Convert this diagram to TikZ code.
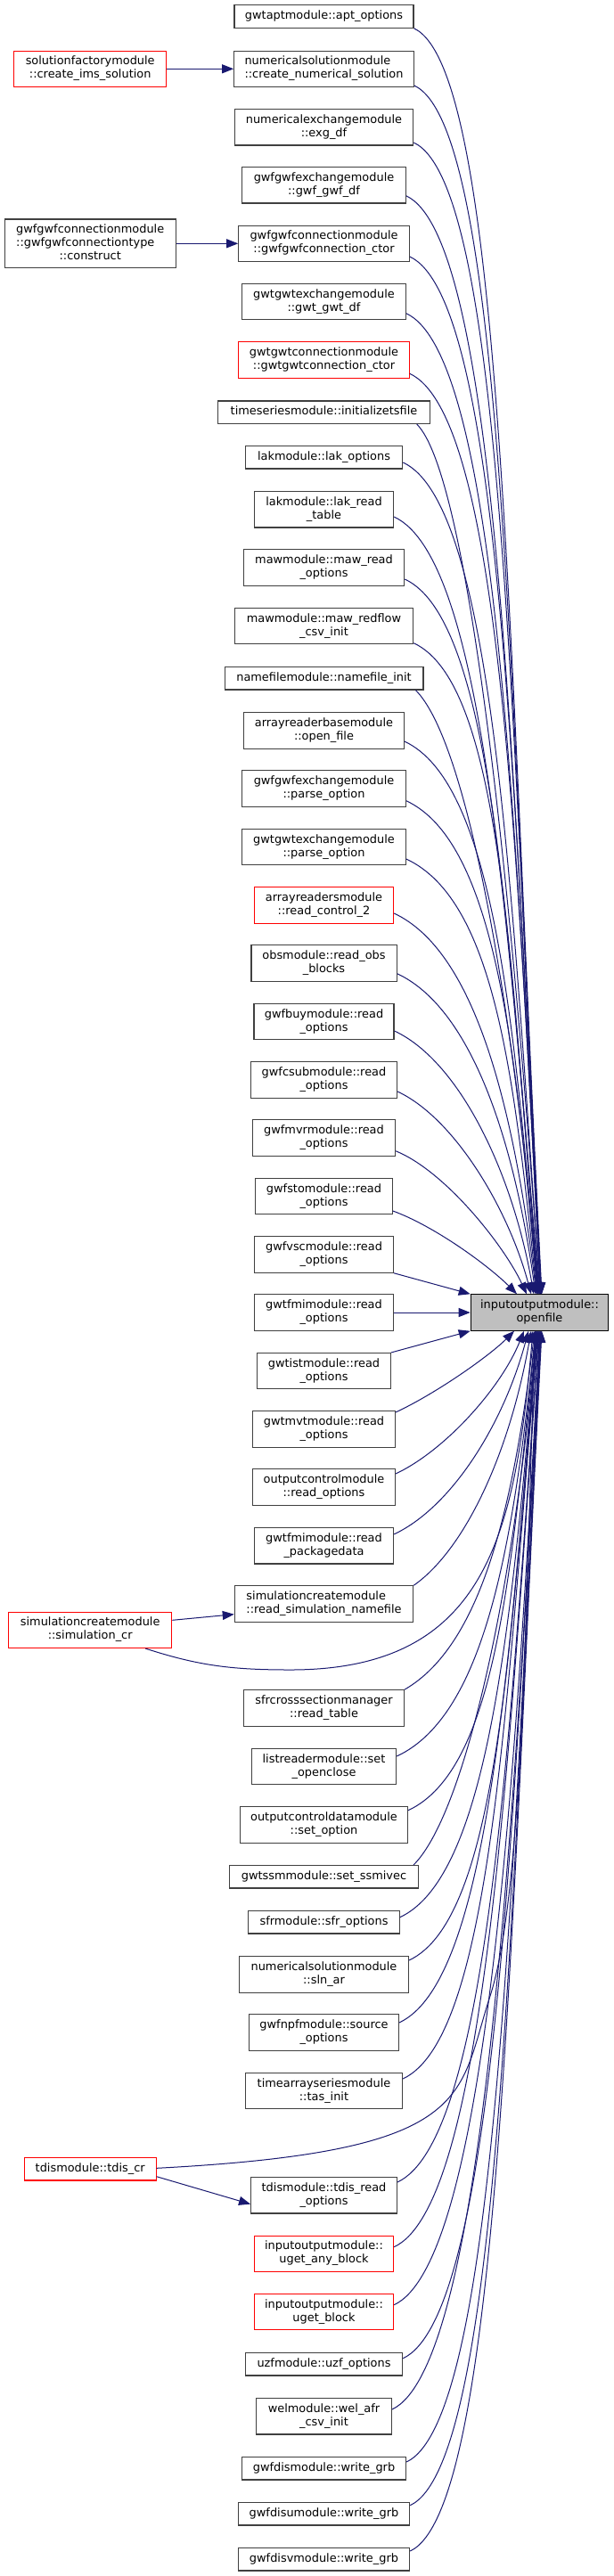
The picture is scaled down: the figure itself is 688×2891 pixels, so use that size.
\documentclass[tikz,border=0pt]{standalone}
\usepackage{fontspec}
\setmainfont{DejaVu Sans}
\usetikzlibrary{arrows.meta}
\definecolor{midnight}{HTML}{191970}
\def\kk{0.25}
\newcommand\labA[1]{\begin{tabular}{@{}c@{}}#1\end{tabular}}
\newcommand\labB[2]{\begin{tabular}{@{}l@{}}#1\\\multicolumn{1}{@{}c@{}}{#2}\end{tabular}}
\newcommand\labC[3]{\begin{tabular}{@{}l@{}}#1\\#2\\\multicolumn{1}{@{}c@{}}{#3}\end{tabular}}
\begin{document}
\begin{tikzpicture}[x=0.25pt,y=0.25pt,
  fn/.style={rectangle, draw=black!75, line width=0.3pt, fill=white, inner xsep=0.5pt, inner ysep=0pt,
    minimum height=6.375pt, font=\fontsize{3.225pt}{3.75pt}\selectfont, text=black},
  fn2/.style={fn, minimum height=10.075pt},
  fn3/.style={fn, minimum height=13.675pt},
  mw/.style={minimum width=\kk*#1pt},
  hot/.style={draw=red},
  sel/.style={fill=black!25, draw=black},
  cl/.style={draw=midnight, line width=0.25pt, -{Triangle[length=3.25pt,width=2.5pt]}}
]
\fill[white] (0,0) rectangle (688,-2891);
\useasboundingbox (0,0) rectangle (688,-2891);

% left column
\node[fn2,hot,mw=170.7] (ims) at (101.2,-77.3) {\labB{solutionfactorymodule}{::create\_ims\_solution}};
\node[fn3,mw=191.9] (cons) at (101.2,-273.3) {\labC{gwfgwfconnectionmodule}{::gwfgwfconnectiontype}{::construct}};
\node[fn2,hot,mw=183] (simcr) at (101.2,-1829.3) {\labB{simulationcreatemodule}{::simulation\_cr}};
\node[fn,hot,mw=147.8] (tdiscr) at (101.2,-2434.3) {\labA{tdismodule::tdis\_cr}};

% middle column
\node[fn,mw=201] (apt) at (363.5,-18.5) {\labA{gwtaptmodule::apt\_options}};
\node[fn2,mw=201.5] (cns) at (363.5,-77.3) {\labB{numericalsolutionmodule}{::create\_numerical\_solution}};
\node[fn2,mw=200.3] (exg) at (363.5,-142.8) {\labB{numericalexchangemodule}{::exg\_df}};
\node[fn2,mw=183.5] (gwfgwfdf) at (363.5,-207.8) {\labB{gwfgwfexchangemodule}{::gwf\_gwf\_df}};
\node[fn2,mw=191.4] (gwfconn) at (363.5,-273.3) {\labB{gwfgwfconnectionmodule}{::gwfgwfconnection\_ctor}};
\node[fn2,mw=183.5] (gwtgwtdf) at (363.5,-338.7) {\labB{gwtgwtexchangemodule}{::gwt\_gwt\_df}};
\node[fn2,hot,mw=191.4] (gwtconn) at (363.5,-404) {\labB{gwtgwtconnectionmodule}{::gwtgwtconnection\_ctor}};
\node[fn,mw=237.3] (initts) at (363.5,-462.7) {\labA{timeseriesmodule::initializetsfile}};
\node[fn,mw=176.4] (lakopt) at (363.5,-513.3) {\labA{lakmodule::lak\_options}};
\node[fn2,mw=156.2] (lakread) at (363.5,-571.8) {\labB{lakmodule::lak\_read}{\_table}};
\node[fn2,mw=180.4] (mawread) at (363.5,-637) {\labB{mawmodule::maw\_read}{\_options}};
\node[fn2,mw=200.3] (mawred) at (363.5,-702.7) {\labB{mawmodule::maw\_redflow}{\_csv\_init}};
\node[fn,mw=222.8] (namefile) at (363.5,-761.3) {\labA{namefilemodule::namefile\_init}};
\node[fn2,mw=179.5] (openf) at (363.5,-820) {\labB{arrayreaderbasemodule}{::open\_file}};
\node[fn2,mw=183.5] (gwfparse) at (363.5,-885) {\labB{gwfgwfexchangemodule}{::parse\_option}};
\node[fn2,mw=183.5] (gwtparse) at (363.5,-950.5) {\labB{gwtgwtexchangemodule}{::parse\_option}};
\node[fn2,hot,mw=156.2] (rc2) at (363.5,-1016) {\labB{arrayreadersmodule}{::read\_control\_2}};
\node[fn2,mw=163.2] (robs) at (363.5,-1081) {\labB{obsmodule::read\_obs}{\_blocks}};
\node[fn2,mw=157] (buy) at (363.5,-1146.7) {\labB{gwfbuymodule::read}{\_options}};
\node[fn2,mw=164] (csub) at (363.5,-1212) {\labB{gwfcsubmodule::read}{\_options}};
\node[fn2,mw=159.7] (mvr) at (363.5,-1277) {\labB{gwfmvrmodule::read}{\_options}};
\node[fn2,mw=153.5] (sto) at (363.5,-1342.5) {\labB{gwfstomodule::read}{\_options}};
\node[fn2,mw=155.7] (vsc) at (363.5,-1408) {\labB{gwfvscmodule::read}{\_options}};
\node[fn2,mw=155.7] (fmi) at (363.5,-1473) {\labB{gwtfmimodule::read}{\_options}};
\node[fn2,mw=149.5] (ist) at (363.5,-1538.7) {\labB{gwtistmodule::read}{\_options}};
\node[fn2,mw=159.7] (mvt) at (363.5,-1604) {\labB{gwtmvtmodule::read}{\_options}};
\node[fn2,mw=159.7] (ocro) at (363.5,-1669) {\labB{outputcontrolmodule}{::read\_options}};
\node[fn2,mw=156.2] (pkg) at (363.5,-1734.8) {\labB{gwtfmimodule::read}{\_packagedata}};
\node[fn2,mw=200.3] (rsnf) at (363.5,-1800) {\labB{simulationcreatemodule}{::read\_simulation\_namefile}};
\node[fn2,mw=179.5] (sfrx) at (363.5,-1917) {\labB{sfrcrosssectionmanager}{::read\_table}};
\node[fn2,mw=162.3] (soc) at (363.5,-1982.7) {\labB{listreadermodule::set}{\_openclose}};
\node[fn2,mw=188] (sopt) at (363.5,-2048) {\labB{outputcontroldatamodule}{::set\_option}};
\node[fn,mw=212] (ssm) at (363.5,-2106.3) {\labA{gwtssmmodule::set\_ssmivec}};
\node[fn,mw=169.4] (sfro) at (363.5,-2157.3) {\labA{sfrmodule::sfr\_options}};
\node[fn2,mw=189.7] (sln) at (363.5,-2216) {\labB{numericalsolutionmodule}{::sln\_ar}};
\node[fn2,mw=167.6] (srco) at (363.5,-2281) {\labB{gwfnpfmodule::source}{\_options}};
\node[fn2,mw=176] (tas) at (363.5,-2346.7) {\labB{timearrayseriesmodule}{::tas\_init}};
\node[fn2,mw=163.7] (tdisr) at (363.5,-2463.8) {\labB{tdismodule::tdis\_read}{\_options}};
\node[fn2,hot,mw=156.2] (uany) at (363.5,-2529.3) {\labB{inputoutputmodule::}{uget\_any\_block}};
\node[fn2,hot,mw=156.2] (ublk) at (363.5,-2594.5) {\labB{inputoutputmodule::}{uget\_block}};
\node[fn,mw=176.4] (uzf) at (363.5,-2653.3) {\labA{uzfmodule::uzf\_options}};
\node[fn2,mw=151.7] (wel) at (363.5,-2711.8) {\labB{welmodule::wel\_afr}{\_csv\_init}};
\node[fn,mw=184] (dis) at (363.5,-2770.3) {\labA{gwfdismodule::write\_grb}};
\node[fn,mw=192.3] (disu) at (363.5,-2821.3) {\labA{gwfdisumodule::write\_grb}};
\node[fn,mw=192.3] (disv) at (363.5,-2872.2) {\labA{gwfdisvmodule::write\_grb}};

% target
\node[fn2,sel,mw=154.4] (of) at (605.5,-1473) {\labB{inputoutputmodule::}{openfile}};

\coordinate (simbend) at (326,-1874);
\coordinate (tdisbend) at (550,-2240);

% left edges
\draw[cl] (ims) -- (cns);
\draw[cl] (cons) -- (gwfconn);
\draw[cl] ([shift={(0,11)}]simcr.east) -- ([shift={(0,-11.7)}]rsnf.west);
\draw[cl] ([shift={(0,-8.4)}]tdiscr.east) -- ([shift={(0,-9.8)}]tdisr.west);

% upper edges
\draw[cl] (apt.south east) .. controls +(-25:110) and +(93:711) .. ([shift={(2.5,0)}]of.north);
\draw[cl] ([shift={(0,-18.7)}]cns.east) .. controls +(-25:110) and +(93:678) .. ([shift={(2,0)}]of.north);
\draw[cl] ([shift={(0,-17.2)}]exg.east) .. controls +(-25:110) and +(93:646) .. ([shift={(2,0)}]of.north);
\draw[cl] ([shift={(0,-12)}]gwfgwfdf.east) .. controls +(-25:110) and +(93:616) .. ([shift={(1.5,0)}]of.north);
\draw[cl] ([shift={(0,-14.7)}]gwfconn.east) .. controls +(-25:110) and +(93:582) .. ([shift={(1.5,0)}]of.north);
\draw[cl] ([shift={(0,-13)}]gwtgwtdf.east) .. controls +(-25:110) and +(93:550) .. ([shift={(1,0)}]of.north);
\draw[cl] ([shift={(0,-15.3)}]gwtconn.east) .. controls +(-25:110) and +(93:517) .. ([shift={(1,0)}]of.north);
\draw[cl] ([shift={(-15,0)}]initts.south east) .. controls +(-45:80) and +(94:489) .. ([shift={(0.5,0)}]of.north);
\draw[cl] ([shift={(0,-5.7)}]lakopt.east) .. controls +(-25:110) and +(94:467) .. ([shift={(0.5,0)}]of.north);
\draw[cl] ([shift={(0,-8.2)}]lakread.east) .. controls +(-25:110) and +(95:436) .. (of.north);
\draw[cl] ([shift={(0,-13)}]mawread.east) .. controls +(-25:110) and +(95:401) .. ([shift={(-0.5,0)}]of.north);
\draw[cl] ([shift={(0,-19)}]mawred.east) .. controls +(-25:110) and +(95:365) .. ([shift={(-1,0)}]of.north);
\draw[cl] ([shift={(-9,0)}]namefile.south east) .. controls +(-45:80) and +(95:340) .. ([shift={(-1.5,0)}]of.north);
\draw[cl] ([shift={(0,-12)}]openf.east) .. controls +(-25:110) and +(95:310) .. ([shift={(-2,0)}]of.north);
\draw[cl] ([shift={(0,-13.7)}]gwfparse.east) .. controls +(-25:110) and +(95:277) .. ([shift={(-2.5,0)}]of.north);
\draw[cl] ([shift={(0,-13.5)}]gwtparse.east) .. controls +(-25:110) and +(96:244) .. ([shift={(-3,0)}]of.north);
\draw[cl] ([shift={(0,-9)}]rc2.east) .. controls +(-25:100) and +(97:214) .. ([shift={(-3.5,0)}]of.north);
\draw[cl] ([shift={(0,-11.7)}]robs.east) .. controls +(-25:90) and +(98:180) .. ([shift={(-4.5,0)}]of.north);
\draw[cl] ([shift={(0,-10.3)}]buy.east) .. controls +(-25:80) and +(100:140) .. ([shift={(-6.5,0)}]of.north);
\draw[cl] ([shift={(0,-13)}]csub.east) .. controls +(-25:70) and +(105:100) .. ([shift={(-9.5,0)}]of.north);
\draw[cl] ([shift={(0,-14.7)}]mvr.east) .. controls +(-22:60) and +(115:60) .. ([shift={(-14.5,0)}]of.north);
\draw[cl] ([shift={(0,-16.5)}]sto.east) .. controls +(-20:50) and +(135:45) .. ([shift={(-25.5,0)}]of.north);
\draw[cl] (vsc.south east) -- (of.north west);
\draw[cl] (fmi) -- (of);
\draw[cl] (ist.north east) -- (of.south west);

% lower edges
\draw[cl] ([shift={(0,19)}]mvt.east) .. controls +(25:50) and +(-135:40) .. ([shift={(-28.5,0)}]of.south);
\draw[cl] ([shift={(0,15)}]ocro.east) .. controls +(25:60) and +(-112:70) .. ([shift={(-17.5,0)}]of.south);
\draw[cl] ([shift={(0,13)}]pkg.east) .. controls +(25:70) and +(-105:110) .. ([shift={(-12.5,0)}]of.south);
\draw[cl] (rsnf.north east) .. controls +(35:70) and +(-100:140) .. ([shift={(-9.5,0)}]of.south);
\draw[cl] ([shift={(62,0)}]simcr.south) .. controls +(-18:64) and +(180:64) .. (simbend) .. controls +(0:220) and +(-95:230) .. ([shift={(-7.5,0)}]of.south);
\draw[cl] (sfrx.north east) .. controls +(30:100) and +(-97:200) .. ([shift={(-5.5,0)}]of.south);
\draw[cl] ([shift={(0,11.7)}]soc.east) .. controls +(25:110) and +(-96:239) .. ([shift={(-4.5,0)}]of.south);
\draw[cl] ([shift={(0,16.3)}]sopt.east) .. controls +(25:110) and +(-96:269) .. ([shift={(-4,0)}]of.south);
\draw[cl] ([shift={(-6,0)}]ssm.north east) .. controls +(45:80) and +(-95:300) .. ([shift={(-3.5,0)}]of.south);
\draw[cl] ([shift={(0,5.6)}]sfro.east) .. controls +(25:110) and +(-95:329) .. ([shift={(-3,0)}]of.south);
\draw[cl] ([shift={(0,16)}]sln.east) .. controls +(25:110) and +(-95:353) .. ([shift={(-2.5,0)}]of.south);
\draw[cl] ([shift={(0,11)}]srco.east) .. controls +(25:110) and +(-95:388) .. ([shift={(-2,0)}]of.south);
\draw[cl] ([shift={(0,13.7)}]tas.east) .. controls +(25:110) and +(-95:420) .. ([shift={(-1.5,0)}]of.south);
\draw[cl] ([shift={(0,1)}]tdiscr.east) .. controls +(3:360) and +(-108:120) .. (tdisbend) .. controls +(72:120) and +(-92:300) .. ([shift={(-5,0)}]of.south);
\draw[cl] ([shift={(0,14.8)}]tdisr.east) .. controls +(25:110) and +(-94:478) .. ([shift={(-1,0)}]of.south);
\draw[cl] ([shift={(0,7.6)}]uany.east) .. controls +(25:110) and +(-94:514) .. ([shift={(-0.5,0)}]of.south);
\draw[cl] ([shift={(0,7.8)}]ublk.east) .. controls +(25:110) and +(-93:547) .. (of.south);
\draw[cl] ([shift={(0,6.6)}]uzf.east) .. controls +(25:110) and +(-93:577) .. ([shift={(0.5,0)}]of.south);
\draw[cl] ([shift={(0,7.8)}]wel.east) .. controls +(25:110) and +(-93:605) .. ([shift={(1,0)}]of.south);
\draw[cl] ([shift={(0,7.3)}]dis.east) .. controls +(25:110) and +(-93:635) .. ([shift={(1.5,0)}]of.south);
\draw[cl] ([shift={(0,9.6)}]disu.east) .. controls +(25:110) and +(-93:659) .. ([shift={(2,0)}]of.south);
\draw[cl] ([shift={(0,9.2)}]disv.east) .. controls +(25:110) and +(-93:685) .. ([shift={(2.5,0)}]of.south);
\end{tikzpicture}
\end{document}
